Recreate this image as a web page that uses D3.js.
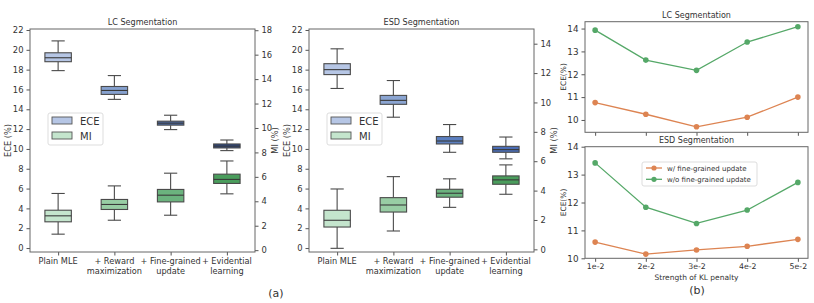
<!DOCTYPE html>
<html>
<head>
<meta charset="utf-8">
<script src="https://cdn.jsdelivr.net/npm/d3@7"></script>
<style>
  body { margin: 0; background: #fff; }
  svg { font-family: "DejaVu Sans", sans-serif; }
</style>
</head>
<body>
<svg id="chart" width="814" height="303"></svg>
<script>
// box stats: [whisker low, q1, median, q3, whisker high]
const methods = ["Plain MLE", "+ Reward|maximization", "+ Fine-grained|update", "+ Evidential|learning"];
const lcEce = [[17.9, 18.8, 19.2, 19.7, 20.9], [15.0, 15.5, 15.9, 16.3, 17.4], [11.95, 12.4, 12.6, 12.8, 13.4], [9.83, 10.1, 10.28, 10.5, 10.9]];
const lcMi = [[1.31, 2.32, 2.81, 3.27, 4.64], [2.45, 3.33, 3.74, 4.15, 5.26], [2.86, 3.95, 4.5, 4.97, 6.3], [4.61, 5.46, 5.79, 6.22, 7.3]];
const esdEce = [[16.1, 17.5, 18.0, 18.6, 20.1], [13.2, 14.5, 14.9, 15.4, 16.9], [9.66, 10.5, 10.8, 11.25, 12.46], [9.0, 9.66, 9.93, 10.26, 11.2]];
const esdMi = [[0.07, 1.52, 1.98, 2.66, 4.11], [1.25, 2.54, 3.02, 3.52, 4.95], [2.86, 3.55, 3.82, 4.09, 4.8], [3.75, 4.43, 4.73, 5.0, 5.75]];
const eceTicks = [0, 2, 4, 6, 8, 10, 12, 14, 16, 18, 20, 22];
const lcMiTicks = [0, 2, 4, 6, 8, 10, 12, 14, 16, 18];
const esdMiTicks = [0, 2, 4, 6, 8, 10, 12, 14];

// panel (b)
const klLabels = ["1e-2", "2e-2", "3e-2", "4e-2", "5e-2"];
const lcWith = [10.76, 10.25, 9.7, 10.12, 11.0];
const lcWithout = [13.93, 12.62, 12.17, 13.41, 14.08];
const esdWith = [10.58, 10.15, 10.3, 10.43, 10.68];
const esdWithout = [13.42, 11.83, 11.25, 11.73, 12.72];
const bTicks = [10, 11, 12, 13, 14];

const eceColors = {
  lc: ["#b6c6e5", "#86a1cf", "#4c6ca9", "#2b4680"],
  esd: ["#b6c6e5", "#8ba5d2", "#5b7fc0", "#4b6db5"]
};
const miColors = ["#c4e5cd", "#98cda4", "#6bb37e", "#4a9d5c"];
const orange = "#dd8452", green = "#55a868";
const axisColor = "#555", textColor = "#333";

const svg = d3.select("#chart");

function boxPanel(opt) {
  const g = svg.append("g");
  const x = d3.scaleLinear().domain([0.5, 4.5]).range([opt.x0, opt.x1]);
  const yL = d3.scaleLinear().domain([-0.4, 22.1]).range([opt.y1, opt.y0]);
  const yR = d3.scaleLinear().domain(opt.rightDomain).range([opt.y1, opt.y0]);

  const drawBoxes = (stats, y, colors) => {
    const bw = 0.47;
    stats.forEach((s, i) => {
      const cx = x(i + 1);
      const half = (x(1 + bw / 2) - x(1));
      const cap = half / 2;
      const bg = g.append("g").attr("stroke", "#4a4a4a").attr("stroke-width", 1.1);
      bg.append("line").attr("x1", cx).attr("x2", cx).attr("y1", y(s[0])).attr("y2", y(s[1]));
      bg.append("line").attr("x1", cx).attr("x2", cx).attr("y1", y(s[3])).attr("y2", y(s[4]));
      bg.append("line").attr("x1", cx - cap).attr("x2", cx + cap).attr("y1", y(s[0])).attr("y2", y(s[0]));
      bg.append("line").attr("x1", cx - cap).attr("x2", cx + cap).attr("y1", y(s[4])).attr("y2", y(s[4]));
      bg.append("rect").attr("x", cx - half).attr("width", 2 * half)
        .attr("y", y(s[3])).attr("height", y(s[1]) - y(s[3]))
        .attr("fill", colors[i]);
      bg.append("line").attr("x1", cx - half).attr("x2", cx + half)
        .attr("y1", y(s[2])).attr("y2", y(s[2])).attr("stroke", "#3a3a3a");
    });
  };
  drawBoxes(opt.ece, yL, opt.eceColors);
  drawBoxes(opt.mi, yR, miColors);

  const ax = g.append("g");
  const left = ax.append("g").attr("transform", `translate(${opt.x0},0)`)
    .call(d3.axisLeft(yL).tickValues(eceTicks).tickSize(3.5).tickPadding(3).tickSizeOuter(0));
  const right = ax.append("g").attr("transform", `translate(${opt.x1},0)`)
    .call(d3.axisRight(yR).tickValues(opt.miTicks).tickSize(3.5).tickPadding(3).tickSizeOuter(0));
  const bottom = ax.append("g").attr("transform", `translate(0,${opt.y1})`)
    .call(d3.axisBottom(x).tickValues([1, 2, 3, 4]).tickFormat("").tickSize(3.5).tickSizeOuter(0));
  [left, right, bottom].forEach(a => {
    a.select(".domain").remove();
    a.selectAll("line").attr("stroke", axisColor);
    a.selectAll("text").attr("fill", textColor).attr("font-size", 8.4).attr("font-family", "DejaVu Sans");
  });
  g.append("rect").attr("x", opt.x0).attr("y", opt.y0)
    .attr("width", opt.x1 - opt.x0).attr("height", opt.y1 - opt.y0)
    .attr("fill", "none").attr("stroke", "#666").attr("stroke-width", 1);

  methods.forEach((m, i) => {
    const t = g.append("text").attr("x", x(i + 1)).attr("y", opt.y1 + 12)
      .attr("text-anchor", "middle").attr("font-size", 8.2).attr("fill", textColor);
    m.split("|").forEach((line, j) => {
      t.append("tspan").attr("x", x(i + 1)).attr("dy", j === 0 ? 0 : 9.5).text(line);
    });
  });

  g.append("text").attr("x", (opt.x0 + opt.x1) / 2).attr("y", opt.y0 - 4)
    .attr("text-anchor", "middle").attr("font-size", 8.1).attr("fill", textColor).text(opt.title);
  g.append("text").attr("transform", `translate(${opt.x0 - 19},${(opt.y0 + opt.y1) / 2}) rotate(-90)`)
    .attr("text-anchor", "middle").attr("font-size", 8.2).attr("fill", textColor).text("ECE (%)");
  g.append("text").attr("transform", `translate(${opt.x1 + 23},${(opt.y0 + opt.y1) / 2}) rotate(-90)`)
    .attr("text-anchor", "middle").attr("font-size", 8.2).attr("fill", textColor).text("MI (%)");

  // legend
  const lg = g.append("g").attr("transform", `translate(${opt.x0 + 18},113)`);
  lg.append("rect").attr("width", 55).attr("height", 32).attr("rx", 2)
    .attr("fill", "#fff").attr("fill-opacity", 0.8).attr("stroke", "#ddd");
  [["ECE", opt.eceColors[0]], ["MI", miColors[0]]].forEach((d, i) => {
    lg.append("rect").attr("x", 4).attr("y", 4 + i * 15).attr("width", 20).attr("height", 7)
      .attr("fill", d[1]).attr("stroke", "#555").attr("stroke-width", 0.9);
    lg.append("text").attr("x", 32).attr("y", 12 + i * 15).attr("font-size", 10)
      .attr("fill", textColor).text(d[0]);
  });
}

boxPanel({ x0: 30, x1: 255, y0: 29, y1: 252, title: "LC Segmentation",
  ece: lcEce, mi: lcMi, eceColors: eceColors.lc, rightDomain: [-0.15, 18.1], miTicks: lcMiTicks });
boxPanel({ x0: 309, x1: 534, y0: 29, y1: 252, title: "ESD Segmentation",
  ece: esdEce, mi: esdMi, eceColors: eceColors.esd, rightDomain: [-0.18, 15.0], miTicks: esdMiTicks });

svg.append("text").attr("x", 276).attr("y", 297).attr("text-anchor", "middle")
  .attr("font-size", 11).attr("fill", textColor).text("(a)");

function linePanel(opt) {
  const g = svg.append("g");
  const x = d3.scaleLinear().domain([-0.2, 4.2]).range([opt.x0, opt.x1]);
  const y = d3.scaleLinear().domain(opt.yDomain).range([opt.y1, opt.y0]);
  const left = g.append("g").attr("transform", `translate(${opt.x0},0)`)
    .call(d3.axisLeft(y).tickValues(bTicks).tickFormat(d3.format("d")).tickSize(3.5).tickPadding(3).tickSizeOuter(0));
  const bottom = g.append("g").attr("transform", `translate(0,${opt.y1})`)
    .call(d3.axisBottom(x).tickValues(d3.range(klLabels.length))
      .tickFormat(opt.showX ? (i => klLabels[i]) : "").tickSize(3.5).tickPadding(2).tickSizeOuter(0));
  [left, bottom].forEach(a => {
    a.select(".domain").remove();
    a.selectAll("line").attr("stroke", axisColor);
    a.selectAll("text").attr("fill", textColor).attr("font-family", "DejaVu Sans");
  });
  left.selectAll("text").attr("font-size", 8.8);
  bottom.selectAll("text").attr("font-size", 7.8);
  g.append("rect").attr("x", opt.x0).attr("y", opt.y0)
    .attr("width", opt.x1 - opt.x0).attr("height", opt.y1 - opt.y0)
    .attr("fill", "none").attr("stroke", "#666");

  const line = d3.line().x((d, i) => x(i)).y(d => y(d));
  [[opt.without, green], [opt.with, orange]].forEach(([vals, c]) => {
    g.append("path").datum(vals).attr("d", line).attr("fill", "none")
      .attr("stroke", c).attr("stroke-width", 1.3);
    g.selectAll(null).data(vals).join("circle")
      .attr("cx", (d, i) => x(i)).attr("cy", d => y(d)).attr("r", 2.8).attr("fill", c);
  });

  g.append("text").attr("x", (opt.x0 + opt.x1) / 2).attr("y", opt.y0 - 4)
    .attr("text-anchor", "middle").attr("font-size", 8).attr("fill", textColor).text(opt.title);
  g.append("text").attr("transform", `translate(${opt.x0 - 19},${(opt.y0 + opt.y1) / 2}) rotate(-90)`)
    .attr("text-anchor", "middle").attr("font-size", 7.5).attr("fill", textColor).text("ECE(%)");
  return g;
}

linePanel({ x0: 585, x1: 808, y0: 21.7, y1: 132.3, yDomain: [9.46, 14.3], title: "LC Segmentation",
  with: lcWith, without: lcWithout, showX: false });
const esd = linePanel({ x0: 585, x1: 808, y0: 146.7, y1: 258.3, yDomain: [10, 14], title: "ESD Segmentation",
  with: esdWith, without: esdWithout, showX: true });

esd.append("text").attr("x", 696.5).attr("y", 280).attr("text-anchor", "middle")
  .attr("font-size", 7.5).attr("fill", textColor).text("Strength of KL penalty");
svg.append("text").attr("x", 697).attr("y", 294).attr("text-anchor", "middle")
  .attr("font-size", 11).attr("fill", textColor).text("(b)");

// legend (b)
const lb = esd.append("g").attr("transform", "translate(642,162)");
lb.append("rect").attr("width", 115).attr("height", 24).attr("rx", 2)
  .attr("fill", "#fff").attr("stroke", "#ddd");
[["w/ fine-grained update", orange], ["w/o fine-grained update", green]].forEach((d, i) => {
  const yy = 6 + i * 11.3;
  lb.append("line").attr("x1", 4).attr("x2", 20).attr("y1", yy).attr("y2", yy)
    .attr("stroke", d[1]).attr("stroke-width", 1.3);
  lb.append("circle").attr("cx", 12).attr("cy", yy).attr("r", 2.6).attr("fill", d[1]);
  lb.append("text").attr("x", 25).attr("y", yy + 2.6).attr("font-size", 7)
    .attr("fill", textColor).text(d[0]);
});
</script>
</body>
</html>
